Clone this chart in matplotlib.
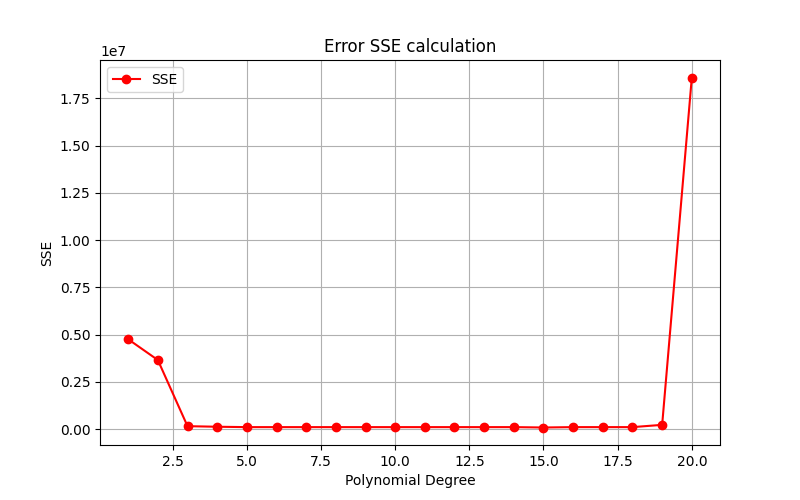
import matplotlib
matplotlib.use("Agg")
import matplotlib.pyplot as plt

degrees = list(range(1, 21))
sse = [4.75e6, 3.65e6, 0.15e6, 0.12e6, 0.10e6, 0.10e6, 0.10e6, 0.10e6, 0.10e6, 0.10e6,
       0.10e6, 0.10e6, 0.10e6, 0.10e6, 0.08e6, 0.10e6, 0.10e6, 0.10e6, 0.22e6, 18.6e6]

plt.figure(figsize=(8, 5))
plt.plot(degrees, sse, color='red', marker='o', label='SSE')
plt.xlabel('Polynomial Degree')
plt.ylabel('SSE')
plt.title('Error SSE calculation')
plt.legend(loc='upper left')
plt.grid(True)
plt.savefig('out.png', dpi=100)
